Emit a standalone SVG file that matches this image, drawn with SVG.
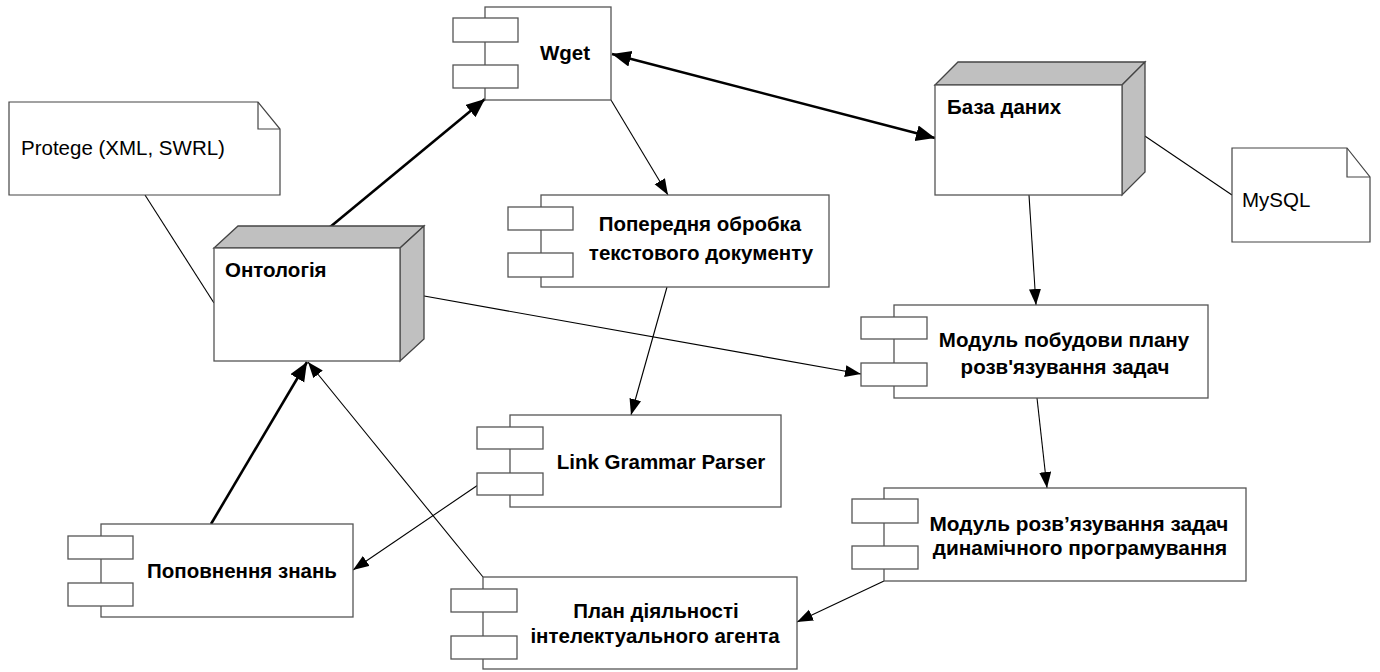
<svg xmlns="http://www.w3.org/2000/svg" width="1380" height="672" viewBox="0 0 1380 672">
<style>
.bg{fill:#ffffff}
.box{fill:#ffffff;stroke:#555555;stroke-width:1.3}
.face{fill:#c0c0c0;stroke:#444444;stroke-width:1.3}
.note{fill:#ffffff;stroke:#444444;stroke-width:1.2}
.fold{fill:none;stroke:#444444;stroke-width:1.2}
.t{font-family:"Liberation Sans",Arial,sans-serif;font-size:20.5px;font-weight:bold;fill:#000000}
.tc{text-anchor:middle}
.tw{font-size:20.8px}
.tn{font-family:"Liberation Sans",Arial,sans-serif;font-size:20.5px;fill:#000000}
.thin{stroke:#000000;stroke-width:1.1;fill:none}
.thick{stroke:#000000;stroke-width:2.6;fill:none}
</style>
<defs>
<marker id="a" markerUnits="userSpaceOnUse" markerWidth="18" markerHeight="14" refX="16" refY="6" orient="auto"><path d="M0,0 L16,6 L0,12 z" fill="#000000"/></marker>
<marker id="ab" markerUnits="userSpaceOnUse" markerWidth="22" markerHeight="18" refX="19" refY="8" orient="auto-start-reverse"><path d="M0,0 L19,8 L0,16 z" fill="#000000"/></marker>
</defs>
<rect class="bg" x="0" y="0" width="1380" height="672"/>

<g id="connectors">
<line class="thin" x1="145" y1="195" x2="214" y2="303"/>
<line class="thin" x1="1133" y1="128" x2="1232" y2="195"/>
<line class="thick" x1="318" y1="237" x2="485" y2="99" marker-end="url(#ab)"/>
<line class="thick" x1="612" y1="54" x2="935" y2="138" marker-start="url(#ab)" marker-end="url(#ab)"/>
<line class="thin" x1="611" y1="100" x2="668" y2="195" marker-end="url(#a)"/>
<line class="thin" x1="667" y1="287" x2="631" y2="415" marker-end="url(#a)"/>
<line class="thin" x1="1029" y1="195" x2="1036" y2="305" marker-end="url(#a)"/>
<line class="thin" x1="413" y1="294" x2="861" y2="374" marker-end="url(#a)"/>
<line class="thin" x1="1037" y1="398" x2="1047" y2="488" marker-end="url(#a)"/>
<line class="thin" x1="884" y1="581" x2="797" y2="622" marker-end="url(#a)"/>
<line class="thin" x1="478" y1="485" x2="353" y2="570" marker-end="url(#a)"/>
<line class="thin" x1="483" y1="577" x2="308" y2="362" marker-end="url(#a)"/>
<line class="thick" x1="211" y1="524" x2="307" y2="362" marker-end="url(#ab)"/>
</g>

<g id="note-protege">
<polygon class="note" points="9,102 258,102 280,129 280,195 9,195"/>
<polyline class="fold" points="258,102 258,129 280,129"/>
<text class="tn" x="21" y="155">Protege (XML, SWRL)</text>
</g>

<g id="note-mysql">
<polygon class="note" points="1232,148 1347,148 1370,177 1370,242 1232,242"/>
<polyline class="fold" points="1347,148 1347,177 1370,177"/>
<text class="tn" x="1242" y="207">MySQL</text>
</g>

<g id="node-ontology">
<polygon class="face" points="214,248 238,226 424,226 400,248"/>
<polygon class="face" points="400,248 424,226 424,339 400,361"/>
<rect class="box" x="214" y="248" width="186" height="113"/>
<text class="t" x="225" y="277">Онтологія</text>
</g>

<g id="node-db">
<polygon class="face" points="935,85 958,62 1145,62 1122,85"/>
<polygon class="face" points="1122,85 1145,62 1145,172 1122,195"/>
<rect class="box" x="935" y="85" width="187" height="110"/>
<text class="t" x="947" y="114">База даних</text>
</g>

<g id="comp-wget">
<rect class="box" x="485" y="7" width="126" height="93"/>
<rect class="box" x="453" y="18" width="65" height="24"/>
<rect class="box" x="453" y="65" width="65" height="23"/>
<text class="t tc" x="565" y="60">Wget</text>
</g>

<g id="comp-preprocess">
<rect class="box" x="541" y="195" width="288" height="92"/>
<rect class="box" x="508" y="207" width="65" height="23"/>
<rect class="box" x="508" y="253" width="65" height="24"/>
<text class="t tc" x="700" y="231">Попередня обробка</text>
<text class="t tc" x="701" y="260">текстового документу</text>
</g>

<g id="comp-plan-builder">
<rect class="box" x="894" y="305" width="314" height="93"/>
<rect class="box" x="861" y="317" width="66" height="22"/>
<rect class="box" x="861" y="363" width="66" height="23"/>
<text class="t tc" x="1064" y="347">Модуль побудови плану</text>
<text class="t tc" x="1065" y="374">розв'язування задач</text>
</g>

<g id="comp-linkgrammar">
<rect class="box" x="510" y="415" width="271" height="92"/>
<rect class="box" x="477" y="427" width="66" height="22"/>
<rect class="box" x="477" y="473" width="66" height="22"/>
<text class="t tc" x="661" y="469">Link Grammar Parser</text>
</g>

<g id="comp-dp-solver">
<rect class="box" x="884" y="488" width="362" height="93"/>
<rect class="box" x="852" y="499" width="66" height="24"/>
<rect class="box" x="852" y="546" width="66" height="23"/>
<text class="t tc tw" x="1079" y="531">Модуль розв’язування задач</text>
<text class="t tc tw" x="1080" y="555">динамічного програмування</text>
</g>

<g id="comp-knowledge">
<rect class="box" x="101" y="524" width="252" height="93"/>
<rect class="box" x="68" y="536" width="65" height="23"/>
<rect class="box" x="68" y="583" width="65" height="23"/>
<text class="t tc" x="242" y="578">Поповнення знань</text>
</g>

<g id="comp-agent-plan">
<rect class="box" x="483" y="577" width="314" height="92"/>
<rect class="box" x="451" y="589" width="66" height="23"/>
<rect class="box" x="451" y="636" width="66" height="23"/>
<text class="t tc" x="656" y="618">План діяльності</text>
<text class="t tc" x="655" y="643">інтелектуального агента</text>
</g>
</svg>
